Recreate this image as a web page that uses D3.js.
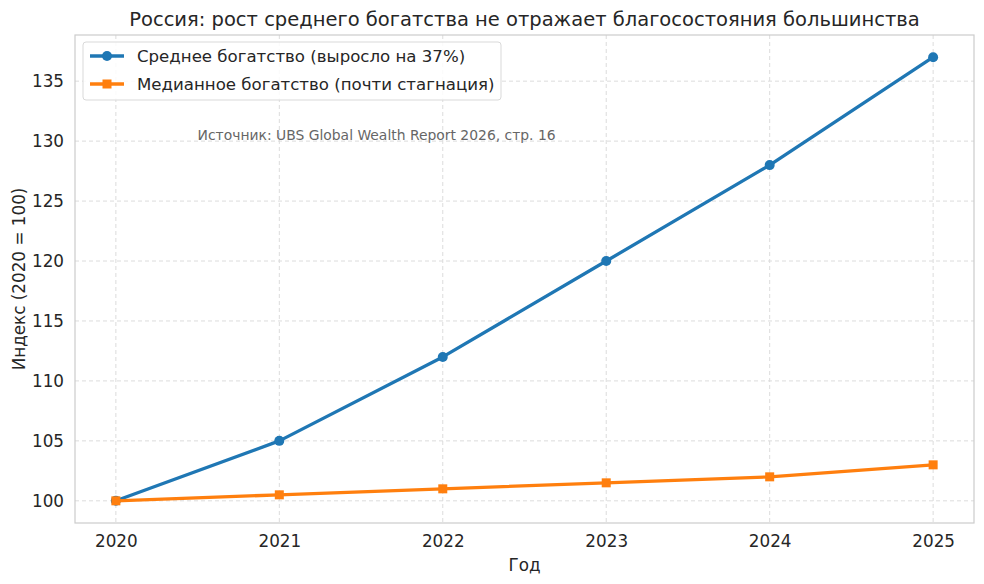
<!DOCTYPE html>
<html><head><meta charset="utf-8">
<script src="https://cdn.jsdelivr.net/npm/d3@7/dist/d3.min.js"></script>
<style>body{margin:0;background:#fff}svg{display:block;font-family:"DejaVu Sans",sans-serif}</style>
</head><body><svg id="c" width="984" height="584"></svg>
<script>
const years = [2020, 2021, 2022, 2023, 2024, 2025];
const meanWealth = [100, 105, 112, 120, 128, 137];
const medianWealth = [100, 100.5, 101, 101.5, 102, 103];
const yTicks = [100, 105, 110, 115, 120, 125, 130, 135];
const titleText = "Россия: рост среднего богатства не отражает благосостояния большинства";
const meanLabel = "Среднее богатство (выросло на 37%)";
const medianLabel = "Медианное богатство (почти стагнация)";
const sourceText = "Источник: UBS Global Wealth Report 2026, стр. 16";

const svg = d3.select("#c");
const L = 75, R = 974, T = 35, B = 523;
const x = d3.scaleLinear().domain([2019.75, 2025.25]).range([L, R]);
const y = d3.scaleLinear().domain([98.15, 138.85]).range([B, T]);

// grid
const g = svg.append("g");
g.selectAll(".vx").data(years).join("line")
  .attr("x1", d => x(d)).attr("x2", d => x(d)).attr("y1", T).attr("y2", B)
  .attr("stroke", "#dcdcdc").attr("stroke-dasharray", "4,3").attr("stroke-width", 1);
g.selectAll(".hy").data(yTicks).join("line")
  .attr("x1", L).attr("x2", R).attr("y1", d => y(d)).attr("y2", d => y(d))
  .attr("stroke", "#dcdcdc").attr("stroke-dasharray", "4,3").attr("stroke-width", 1);

// spines
svg.append("rect").attr("x", L).attr("y", T).attr("width", R - L).attr("height", B - T)
  .attr("fill", "none").attr("stroke", "#cccccc").attr("stroke-width", 1.2);

// axes
const xAxis = svg.append("g").attr("transform", `translate(0,${B})`)
  .call(d3.axisBottom(x).tickValues(years).tickFormat(d3.format("d")).tickSize(0).tickPadding(12));
const yAxis = svg.append("g").attr("transform", `translate(${L},0)`)
  .call(d3.axisLeft(y).tickValues(yTicks).tickSize(0).tickPadding(11));
[xAxis, yAxis].forEach(a => {
  a.select(".domain").remove();
  a.selectAll("text").attr("font-size", 16.8).attr("fill", "#262626").attr("font-family", "DejaVu Sans");
});

// lines
const data = years.map((yr, i) => ({yr, mean: meanWealth[i], med: medianWealth[i]}));
const lineMean = d3.line().x(d => x(d.yr)).y(d => y(d.mean));
const lineMed = d3.line().x(d => x(d.yr)).y(d => y(d.med));
svg.append("path").datum(data).attr("d", lineMean).attr("fill", "none")
  .attr("stroke", "#1f77b4").attr("stroke-width", 3.3).attr("stroke-linejoin", "round");
svg.selectAll(".pm").data(data).join("circle")
  .attr("cx", d => x(d.yr)).attr("cy", d => y(d.mean)).attr("r", 5).attr("fill", "#1f77b4");
svg.append("path").datum(data).attr("d", lineMed).attr("fill", "none")
  .attr("stroke", "#ff7f0e").attr("stroke-width", 3.3).attr("stroke-linejoin", "round");
svg.selectAll(".pd").data(data).join("rect")
  .attr("x", d => x(d.yr) - 4.5).attr("y", d => y(d.med) - 4.5).attr("width", 9).attr("height", 9)
  .attr("fill", "#ff7f0e");

// title & labels
svg.append("text").attr("x", (L + R) / 2).attr("y", 26).attr("text-anchor", "middle")
  .attr("font-size", 19.5).attr("fill", "#262626").text(titleText);
svg.append("text").attr("x", (L + R) / 2).attr("y", 571).attr("text-anchor", "middle")
  .attr("font-size", 16.8).attr("fill", "#262626").text("Год");
svg.append("text").attr("transform", `translate(25,${(T + B) / 2}) rotate(-90)`)
  .attr("text-anchor", "middle").attr("font-size", 16.8).attr("fill", "#262626").text("Индекс (2020 = 100)");

// source
svg.append("text").attr("x", x(2020.5)).attr("y", 140).attr("font-size", 13.9)
  .attr("fill", "#666666").text(sourceText);

// legend
const lg = svg.append("g");
lg.append("rect").attr("x", 83).attr("y", 42).attr("width", 418).attr("height", 58).attr("rx", 3)
  .attr("fill", "#ffffff").attr("fill-opacity", 0.85).attr("stroke", "#d9d9d9");
const items = [
  {label: meanLabel, color: "#1f77b4", shape: "circle"},
  {label: medianLabel, color: "#ff7f0e", shape: "square"}
];
items.forEach((it, i) => {
  const cy = 56 + i * 28;
  lg.append("line").attr("x1", 90).attr("x2", 124).attr("y1", cy).attr("y2", cy)
    .attr("stroke", it.color).attr("stroke-width", 3.3);
  if (it.shape === "circle") lg.append("circle").attr("cx", 107).attr("cy", cy).attr("r", 5).attr("fill", it.color);
  else lg.append("rect").attr("x", 102.5).attr("y", cy - 4.5).attr("width", 9).attr("height", 9).attr("fill", it.color);
  lg.append("text").attr("x", 137).attr("y", cy + 6).attr("font-size", 16.6).attr("fill", "#262626").text(it.label);
});
</script></body></html>
